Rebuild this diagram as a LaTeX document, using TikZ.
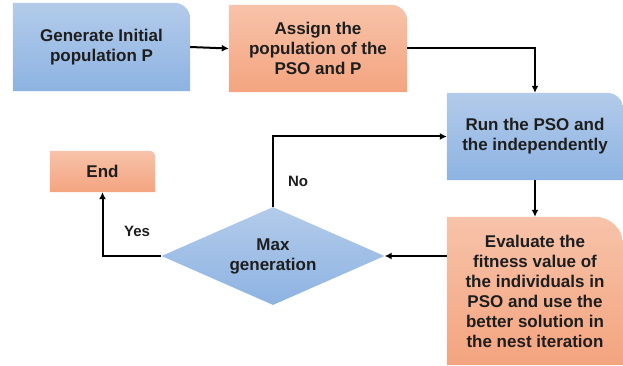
\documentclass[tikz,border=0pt]{standalone}
\usepackage{fontspec}
\setmainfont{Liberation Sans}
\usetikzlibrary{shapes.geometric,arrows.meta,backgrounds}
\definecolor{bluetop}{HTML}{B3CBEA}
\definecolor{bluebot}{HTML}{8DB3E2}
\definecolor{orgtop}{HTML}{F7C3AA}
\definecolor{orgbot}{HTML}{F4A47F}
\definecolor{txt}{HTML}{1E1E1E}
\tikzset{
  boxtext/.style={align=center, font=\bfseries\fontsize{17}{20}\selectfont, text=txt, inner sep=0pt},
  conn/.style={line width=2pt, draw=black, -{Latex[length=7pt,width=7pt]}},
  lbl/.style={font=\bfseries\fontsize{15}{18}\selectfont, text=txt},
}
\newcommand{\cornerbox}[4]{% node, radius, topcolor, bottomcolor
  \shade[top color=#3, bottom color=#4]
    ([yshift=0pt]#1.south west) coordinate (tmpsw) -- (#1.south west |- #1.north west)
    -- ([xshift=-#2]#1.north east) arc[start angle=90, end angle=0, radius=#2]
    -- (#1.south east) -- cycle;}
\begin{document}
\begin{tikzpicture}[x=1pt,y=-1pt]
\useasboundingbox (0,0) rectangle (623,366);
\node[boxtext, minimum width=177pt, minimum height=88pt] (gen) at (101.5,47) {Generate Initial\\population P};
\node[boxtext, minimum width=178pt, minimum height=87pt] (assign) at (318,48.5) {Assign the\\population of the\\PSO and P};
\node[boxtext, minimum width=176pt, minimum height=87pt] (run) at (535,136.5) {Run the PSO and\\the independently};
\node[boxtext, minimum width=176pt, minimum height=148pt] (eval) at (535,291) {Evaluate the\\fitness value of\\the individuals in\\PSO and use the\\better solution in\\the nest iteration};
\node[boxtext, minimum width=105pt, minimum height=41pt] (end) at (102.5,171.5) {End};
\node[boxtext, diamond, minimum width=223pt, minimum height=98pt, aspect=2.27, top color=bluetop, bottom color=bluebot] (dia) at (273,256) {Max\\generation};
\begin{scope}[on background layer]
\cornerbox{gen}{16pt}{bluetop}{bluebot}
\cornerbox{assign}{16pt}{orgtop}{orgbot}
\cornerbox{run}{16pt}{bluetop}{bluebot}
\cornerbox{eval}{28pt}{orgtop}{orgbot}
\cornerbox{end}{6pt}{orgtop}{orgbot}
\end{scope}
\draw[conn] (gen.east) -- (assign.west);
\draw[conn] (assign.east) -| (run.north);
\draw[conn] (run.south) -- (eval.north);
\draw[conn] (dia.east -| eval.west) -- (dia.east);
\draw[conn] (dia.north) |- (run.west);
\draw[conn] (dia.west) -| (end.south);
\node[lbl] (no) at (298,181) {No};
\node[lbl] (yes) at (137,231) {Yes};
\end{tikzpicture}
\end{document}
